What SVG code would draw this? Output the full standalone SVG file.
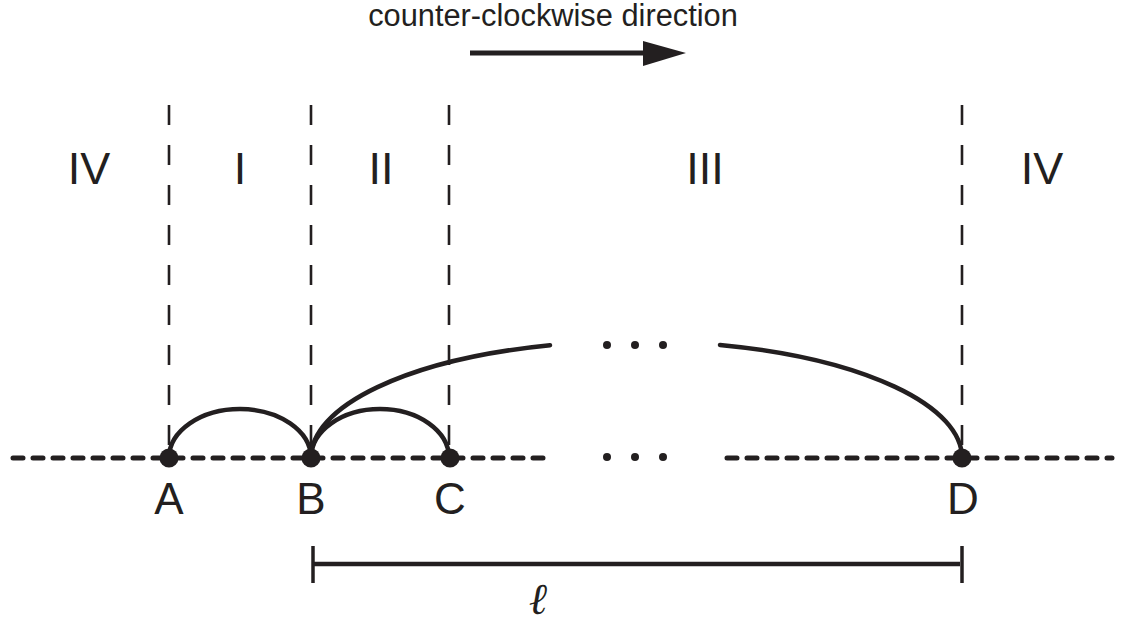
<svg xmlns="http://www.w3.org/2000/svg" width="1125" height="626" viewBox="0 0 1125 626">
<style>
.vd{stroke:#231f20;stroke-width:2.6;stroke-dasharray:20 20;fill:none}
.hd{stroke:#231f20;stroke-width:5;stroke-dasharray:10 10;stroke-linecap:round;fill:none}
.arc{stroke:#231f20;stroke-width:4.5;fill:none;stroke-linecap:round}
.pt{fill:#231f20}
.lbl{font-family:"Liberation Sans",Arial,sans-serif;fill:#231f20;text-anchor:middle}
</style>
<rect width="1125" height="626" fill="#fff"/>
<g id="title">
<text class="lbl" x="553" y="26" font-size="30.8">counter-clockwise direction</text>
<line x1="470" y1="53" x2="646" y2="53" stroke="#231f20" stroke-width="5"/>
<polygon points="643,41 686,53 643,66" fill="#231f20"/>
</g>
<g id="boundaries">
<line class="vd" x1="169" y1="105" x2="169" y2="458"/>
<line class="vd" x1="311" y1="105" x2="311" y2="458"/>
<line class="vd" x1="449" y1="105" x2="449" y2="458"/>
<line class="vd" x1="962" y1="105" x2="962" y2="458"/>
</g>
<g id="regions">
<text class="lbl" x="89" y="184" font-size="45">IV</text>
<text class="lbl" x="240" y="184" font-size="45">I</text>
<text class="lbl" x="381" y="184" font-size="45">II</text>
<text class="lbl" x="705" y="184" font-size="45">III</text>
<text class="lbl" x="1042" y="184" font-size="45">IV</text>
</g>
<g id="baseline">
<line class="hd" x1="13" y1="458" x2="548" y2="458"/>
<line class="hd" x1="727" y1="458" x2="1112" y2="458"/>
<circle class="pt" cx="607" cy="457" r="4"/>
<circle class="pt" cx="635" cy="457" r="4"/>
<circle class="pt" cx="663" cy="457" r="4"/>
</g>
<g id="connectors">
<path class="arc" d="M169,458 A71,49 0 0 1 311,458"/>
<path class="arc" d="M311,458 A69,49 0 0 1 449,458"/>
<path class="arc" d="M311,458 A325.5,117 0 0 1 550,345.2"/>
<path class="arc" d="M720,344.9 A325.5,117 0 0 1 962,458"/>
<circle class="pt" cx="607" cy="345" r="4"/>
<circle class="pt" cx="635" cy="345" r="4"/>
<circle class="pt" cx="663" cy="345" r="4"/>
</g>
<g id="node-A"><circle class="pt" cx="169" cy="458" r="9.5"/><text class="lbl" x="169" y="514" font-size="44">A</text></g>
<g id="node-B"><circle class="pt" cx="311" cy="458" r="9.5"/><text class="lbl" x="311" y="514" font-size="44">B</text></g>
<g id="node-C"><circle class="pt" cx="450" cy="458" r="9.5"/><text class="lbl" x="450" y="514" font-size="44">C</text></g>
<g id="node-D"><circle class="pt" cx="962" cy="458" r="9.5"/><text class="lbl" x="963" y="514" font-size="44">D</text></g>
<g id="length">
<line x1="313" y1="564" x2="960" y2="564" stroke="#231f20" stroke-width="4.5"/>
<line x1="313" y1="546" x2="313" y2="583" stroke="#231f20" stroke-width="3.5"/>
<line x1="962" y1="546" x2="962" y2="583" stroke="#231f20" stroke-width="3.5"/>
<text x="538" y="614" font-size="44" font-style="italic" font-family="'DejaVu Serif','Liberation Serif',serif" fill="#231f20" text-anchor="middle">ℓ</text>
</g>
</svg>
